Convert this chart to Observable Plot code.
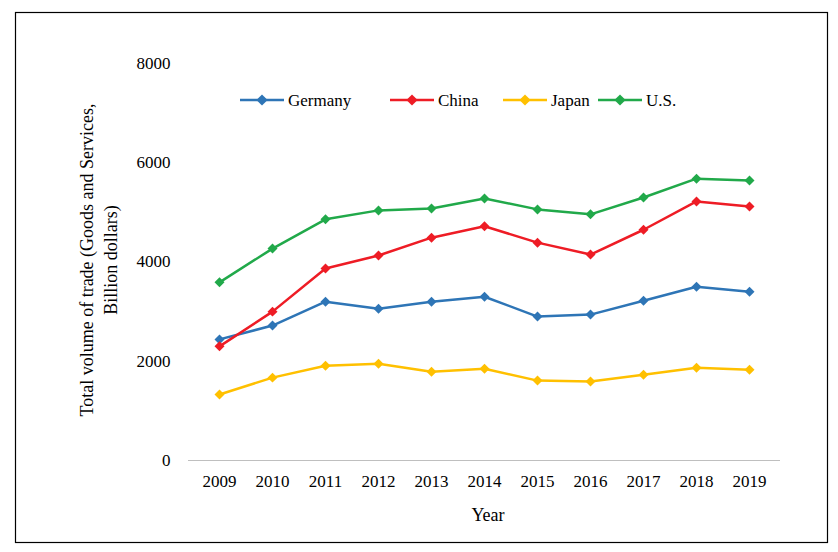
<!DOCTYPE html>
<html><head><meta charset="utf-8">
<script src="https://cdn.jsdelivr.net/npm/d3@7"></script>
<script src="https://cdn.jsdelivr.net/npm/@observablehq/plot@0.6"></script>
<style>body{margin:0;background:#fff}</style>
</head><body><div id="c"></div>
<script>
const years=[2009,2010,2011,2012,2013,2014,2015,2016,2017,2018,2019];
const germany=[2440,2720,3200,3060,3200,3300,2900,2940,3220,3500,3400];
const china=[2300,3000,3870,4130,4490,4720,4390,4150,4650,5220,5120];
const japan=[1330,1670,1910,1950,1790,1850,1610,1590,1730,1870,1830];
const us=[3590,4270,4860,5040,5080,5280,5060,4960,5300,5680,5640];
const seriesNames=["Germany","China","Japan","U.S."];
const colors=["#2E75B6","#EE1C25","#FFC000","#21A94A"];
const vals=[germany,china,japan,us];
const data=[];
seriesNames.forEach((s,i)=>years.forEach((y,j)=>data.push({series:s,year:String(y),value:vals[i][j]})));
const font="'Liberation Serif','Times New Roman',serif";
const chart=Plot.plot({
  width:838,height:552,marginLeft:188,marginRight:58,marginTop:63,marginBottom:92,
  style:{fontFamily:font,fontSize:"17px",color:"#000",background:"#fff"},
  x:{type:"point",domain:years.map(String),padding:0.5,label:null,tickSize:0,tickPadding:14},
  y:{domain:[0,8000],ticks:[0,2000,4000,6000,8000],tickFormat:d=>String(d),label:null,tickSize:0,tickPadding:18},
  color:{domain:seriesNames,range:colors},
  marks:[
    Plot.ruleY([0],{stroke:"#bfbfbf"}),
    Plot.line(data,{x:"year",y:"value",z:"series",stroke:"series",strokeWidth:2.5}),
    Plot.dot(data,{x:"year",y:"value",fill:"series",symbol:d3.symbolDiamond2,r:4.5})
  ]
});
const svg=d3.select(chart);
svg.insert("rect",":first-child").attr("x",15.5).attr("y",12.5).attr("width",812).attr("height",530).attr("fill","#fff").attr("stroke","#000").attr("stroke-width",1.2);
const g=svg.append("g").attr("font-family",font).attr("font-size",18);
g.append("text").attr("transform","translate(93,260) rotate(-90)").attr("text-anchor","middle").text("Total volume of trade (Goods and Services,");
g.append("text").attr("transform","translate(117,260) rotate(-90)").attr("text-anchor","middle").text("Billion dollars)");
g.append("text").attr("x",488).attr("y",521).attr("text-anchor","middle").text("Year");
const lx=[240,390,503,598];
seriesNames.forEach((s,i)=>{
  const x=lx[i];
  g.append("line").attr("x1",x).attr("x2",x+44).attr("y1",100).attr("y2",100).attr("stroke",colors[i]).attr("stroke-width",2.5);
  g.append("path").attr("d",d3.symbol(d3.symbolDiamond2,80)()).attr("transform",`translate(${x+22},100)`).attr("fill",colors[i]);
  g.append("text").attr("x",x+48).attr("y",106).attr("text-anchor","start").attr("font-size",17).text(s);
});
document.getElementById("c").appendChild(chart);
</script></body></html>
